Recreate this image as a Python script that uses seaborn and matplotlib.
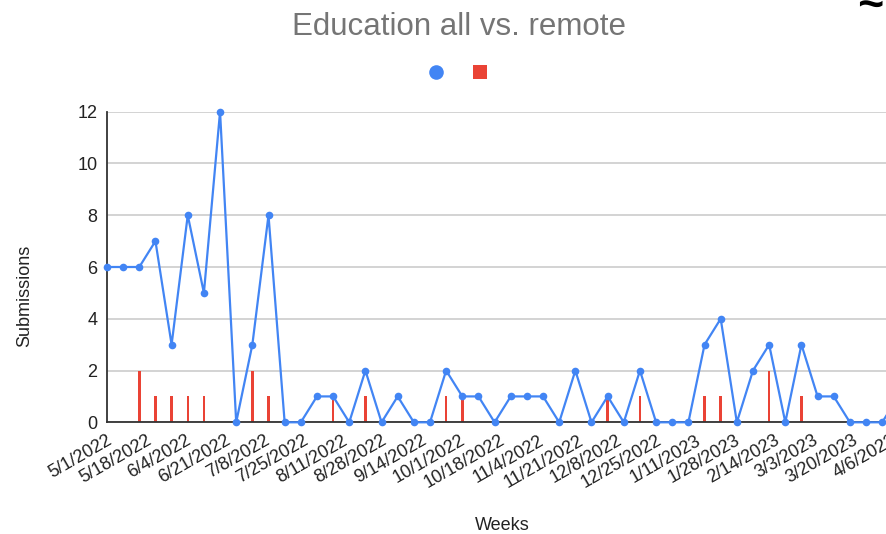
import matplotlib
matplotlib.use("Agg")
import matplotlib.pyplot as plt
from matplotlib.lines import Line2D
import seaborn as sns
import pandas as pd
import numpy as np

# ---- data ----
week_index = list(range(50))  # weekly, starting 5/1/2022
all_submissions = [6, 6, 6, 7, 3, 8, 5, 12, 0, 3, 8, 0, 0, 1, 1, 0, 2, 0,
                   1, 0, 0, 2, 1, 1, 0, 1, 1, 1, 0, 2, 0, 1, 0, 2, 0, 0,
                   0, 3, 4, 0, 2, 3, 0, 3, 1, 1, 0, 0, 0, 1]
remote_submissions = [0, 0, 2, 1, 1, 1, 1, 0, 0, 2, 1, 0, 0, 0, 1, 0, 1, 0,
                      0, 0, 0, 1, 1, 0, 0, 0, 0, 0, 0, 0, 0, 1, 0, 1, 0, 0,
                      0, 1, 1, 0, 0, 2, 0, 1, 0, 0, 0, 0, 0, 0]
tick_labels = ["5/1/2022", "5/18/2022", "6/4/2022", "6/21/2022", "7/8/2022",
               "7/25/2022", "8/11/2022", "8/28/2022", "9/14/2022", "10/1/2022",
               "10/18/2022", "11/4/2022", "11/21/2022", "12/8/2022", "12/25/2022",
               "1/11/2023", "1/28/2023", "2/14/2023", "3/3/2023", "3/20/2023",
               "4/6/2023"]
tick_days = [17 * i for i in range(len(tick_labels))]

df = pd.DataFrame({"week": week_index, "all": all_submissions,
                   "remote": remote_submissions})

BLUE = "#4285F4"
RED = "#EA4335"

sns.set_theme(style="white")
plt.rcParams["font.family"] = ["Liberation Sans", "DejaVu Sans"]

fig = plt.figure(figsize=(8.87, 5.34), dpi=100)
W, H = 887, 534
px_per_week = 16.15
left_px, top_px, bottom_px = 107, 111.7, 422.3
x_max = 49.5
ax = fig.add_axes([left_px / W, 1 - bottom_px / H,
                   x_max * px_per_week / W, (bottom_px - top_px) / H])

sns.barplot(data=df, x="week", y="remote", native_scale=True, width=0.15,
            color=RED, saturation=1, ax=ax, zorder=2, linewidth=0)
sns.lineplot(data=df, x="week", y="all", color=BLUE, linewidth=1.6,
             marker="o", markersize=5.5, markeredgewidth=0, ax=ax, zorder=3,
             clip_on=False)

ax.set_xlim(0, x_max)
ax.set_ylim(0, 12)
ax.set_yticks(range(0, 13, 2))
ax.set_xticks([d / 7 for d in tick_days])
ax.set_xticklabels(tick_labels, rotation=30, ha="right",
                   rotation_mode="anchor", fontsize=13, color="#222222")
ax.tick_params(axis="y", labelsize=13, labelcolor="#222222", length=0, pad=7)
ax.tick_params(axis="x", length=0, pad=7)
ax.yaxis.grid(True, color="#cccccc", linewidth=1.2)
ax.set_axisbelow(True)
for s in ["top", "right"]:
    ax.spines[s].set_visible(False)
ax.spines["left"].set_color("#333333")
ax.spines["bottom"].set_color("#333333")
ax.spines["left"].set_linewidth(1.3)
ax.spines["bottom"].set_linewidth(1.3)

ax.set_xlabel("")
ax.set_ylabel("")
fig.text(25 / W, 1 - 296 / H, "Submissions", rotation=90, ha="center",
         va="center", fontsize=13, color="#222222")
fig.text(502 / W, 1 - 525 / H, "Weeks", ha="center", va="center",
         fontsize=13, color="#222222")
fig.text(459 / W, 1 - 27 / H, "Education all vs. remote", ha="center",
         va="center", fontsize=22.5, color="#757575")
fig.text(870 / W, 1 - 2 / H, "≈", ha="center", va="center",
         fontsize=32, fontweight="bold", color="black")

handles = [Line2D([], [], linestyle="none", marker="o", markersize=10.5,
                  color=BLUE, markeredgewidth=0),
           Line2D([], [], linestyle="none", marker="s", markersize=10.5,
                  color=RED, markeredgewidth=0)]
fig.legend(handles, ["", ""], loc="center", ncol=2,
           bbox_to_anchor=(458 / W, 1 - 74 / H), frameon=False,
           handlelength=1.0, handletextpad=0.0, columnspacing=1.45,
           fontsize=13)

fig.savefig("out.png", dpi=100)
